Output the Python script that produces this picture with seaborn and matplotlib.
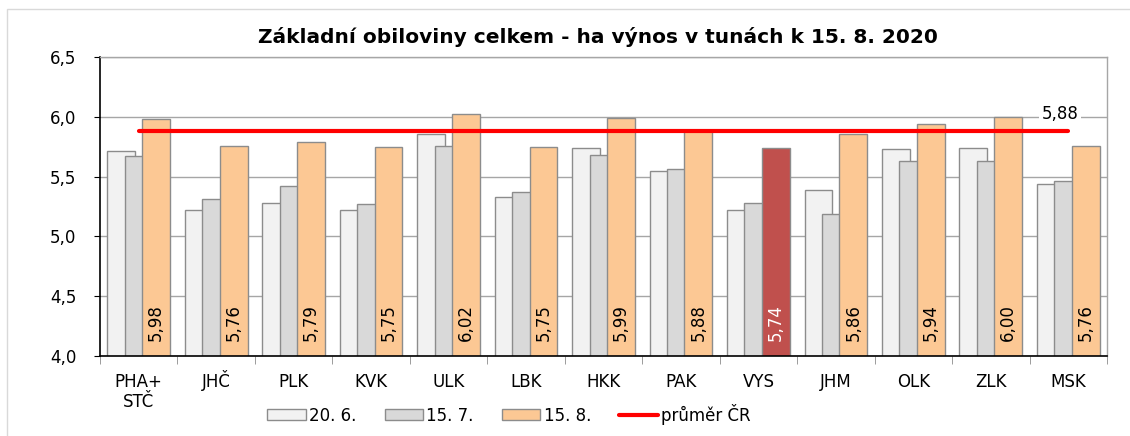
import pandas as pd
import matplotlib.pyplot as plt
import matplotlib.transforms as mtransforms
import seaborn as sns
from matplotlib.patches import Patch, Rectangle
from matplotlib.lines import Line2D

sns.set_style("white")
plt.rcParams['font.family'] = ['DejaVu Sans']
plt.rcParams['text.color'] = 'black'
plt.rcParams['xtick.color'] = 'black'
plt.rcParams['ytick.color'] = 'black'

# Data
kraje = ["PHA+\nSTČ", "JHČ", "PLK", "KVK", "ULK", "LBK", "HKK", "PAK", "VYS", "JHM", "OLK", "ZLK", "MSK"]
terminy = ["20. 6.", "15. 7.", "15. 8."]
vynos_20_6 = [5.71, 5.22, 5.28, 5.22, 5.86, 5.33, 5.74, 5.55, 5.22, 5.39, 5.73, 5.74, 5.44]
vynos_15_7 = [5.67, 5.31, 5.42, 5.27, 5.76, 5.37, 5.68, 5.56, 5.28, 5.19, 5.63, 5.63, 5.46]
vynos_15_8 = [5.98, 5.76, 5.79, 5.75, 6.02, 5.75, 5.99, 5.88, 5.74, 5.86, 5.94, 6.00, 5.76]
prumer_cr = 5.88
zvyrazneny = "VYS"

df = pd.DataFrame({
    "kraj": kraje * 3,
    "termin": [t for t in terminy for _ in kraje],
    "vynos": vynos_20_6 + vynos_15_7 + vynos_15_8,
})

def cz(v, nd=2):
    return f"{v:.{nd}f}".replace(".", ",")

barvy = ["#F2F2F2", "#D9D9D9", "#FCC894"]
fig, ax = plt.subplots(figsize=(11.3, 4.36), dpi=100)
fig.subplots_adjust(left=100/1130, right=1107/1130, bottom=1-356/436, top=1-57/436)

sns.barplot(data=df, x="kraj", y="vynos", hue="termin", palette=barvy, saturation=1,
            width=0.675, edgecolor="#8C8C8C", linewidth=1, legend=False, ax=ax)

# overlapping bars like the Excel original
sirka = 0.36
for cont in ax.containers:
    for p in cont:
        c = p.get_x() + p.get_width() / 2
        p.set_x(c - sirka / 2)
        p.set_width(sirka)

# highlighted region + labels on the last series
for i, (p, v) in enumerate(zip(ax.containers[2], vynos_15_8)):
    barva_txt = "black"
    if kraje[i] == zvyrazneny:
        p.set_facecolor("#C0504D")
        barva_txt = "white"
    ax.annotate(cz(v), (p.get_x() + p.get_width() / 2, 4.0), xytext=(0, 11),
                textcoords="offset points", rotation=90, ha="center", va="bottom",
                fontsize=12, color=barva_txt)

# average line
ax.plot([0, len(kraje) - 1], [prumer_cr, prumer_cr], color="red", lw=3, zorder=3)
ax.annotate(cz(prumer_cr), (len(kraje) - 1, prumer_cr), xytext=(-6, 12),
            textcoords="offset points", ha="center", va="center", fontsize=12,
            bbox=dict(facecolor="white", edgecolor="none", pad=2), zorder=4)

# axes
ax.set_ylim(4.0, 6.5)
ax.set_xlim(-0.5, len(kraje) - 0.5)
yt = [4.0, 4.5, 5.0, 5.5, 6.0, 6.5]
ax.set_yticks(yt)
ax.set_yticklabels([cz(v, 1) for v in yt], fontsize=12)
ax.yaxis.grid(True, color="#A6A6A6", lw=1)
ax.set_axisbelow(True)
ax.set_xticks(range(len(kraje)))
ax.set_xticklabels(kraje, fontsize=12, linespacing=1.2)
ax.set_xticks([i - 0.5 for i in range(len(kraje) + 1)], minor=True)
ax.tick_params(axis="x", which="major", length=0, pad=12)
ax.tick_params(axis="x", which="minor", length=6, color="#8C8C8C", direction="out", bottom=True)
ax.tick_params(axis="y", length=4, color="black", direction="out", left=True, pad=13)
ax.set_xlabel("")
ax.set_ylabel("")
# keep the háček in the first line from pushing the label down
for lab in ax.get_xticklabels():
    if "Č" in lab.get_text().split("\n")[0]:
        lab.set_transform(lab.get_transform() +
                          mtransforms.ScaledTranslation(0, 3 / 100, fig.dpi_scale_trans))
for s in ["left", "bottom"]:
    ax.spines[s].set_color("black")
    ax.spines[s].set_linewidth(1.2)
for s in ["top", "right"]:
    ax.spines[s].set_color("#A6A6A6")
    ax.spines[s].set_linewidth(1)

fig.text(598/1130, 1 - 37/436, "Základní obiloviny celkem - ha výnos v tunách k 15. 8. 2020",
         ha="center", va="center", fontsize=14.5, fontweight="bold")

handles = [Patch(facecolor=b, edgecolor="#8C8C8C", label=t) for b, t in zip(barvy, terminy)]
handles.append(Line2D([], [], color="red", lw=3, label="průměr ČR"))
fig.legend(handles=handles, loc="center", bbox_to_anchor=(509/1130, 1 - 414/436), ncol=4,
           frameon=False, fontsize=12, handlelength=2.3, handleheight=0.6,
           handletextpad=0.2, columnspacing=1.7)

# outer chart border
fig.add_artist(Rectangle((7/1130, -0.1), 1.0, 1.1 - 9/436, transform=fig.transFigure,
                         fill=False, edgecolor="#D9D9D9", lw=1))

fig.savefig("out.png", dpi=100)
